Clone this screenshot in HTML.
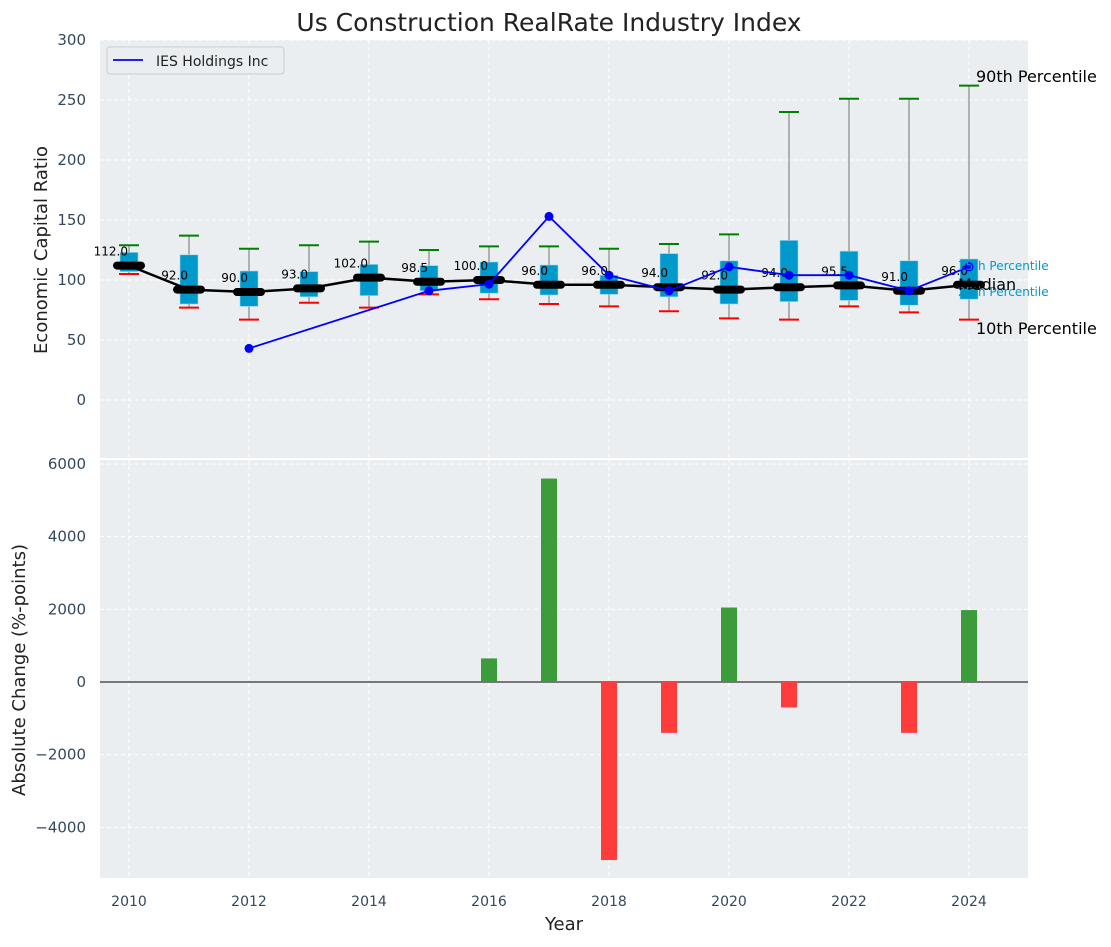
<!DOCTYPE html>
<html><head><meta charset="utf-8"><style>
body{margin:0;background:#fff;}
svg text{font-family:"DejaVu Sans","Liberation Sans",sans-serif;}
</style></head><body>
<svg id="c" width="1111" height="942" xmlns="http://www.w3.org/2000/svg"></svg>
<script>
const years=[2010,2011,2012,2013,2014,2015,2016,2017,2018,2019,2020,2021,2022,2023,2024];
const medians=[112,92,90,93,102,98.5,100,96,96,94,92,94,95.5,91,96];
const q1=[107,80,78,86,87,91,89,87.5,88,86,80,82,83,79,84];
const q3=[123,121,107.5,107,113,112,115,112.5,104,122,116,133,124,116,117.5];
const p10=[105,77,67,81,77,88,84,80,78,74,68,67,78,73,67];
const p90=[129,137,126,129,132,125,128,128,126,130,138,240,251,251,262];
const iesYears=[2012,2015,2016,2017,2018,2019,2020,2021,2022,2023,2024];
const iesVals=[43,91,96.5,153,104,91,111,104,104,91,111];
const changeYears=[2016,2017,2018,2019,2020,2021,2023,2024];
const changeVals=[650,5600,-4900,-1400,2050,-700,-1400,1980];
const topTicks=[0,50,100,150,200,250,300];
const botTicks=[-4000,-2000,0,2000,4000,6000];
const xTicks=[2010,2012,2014,2016,2018,2020,2022,2024];

const NS='http://www.w3.org/2000/svg';
const svg=document.getElementById('c');
function el(t,a,p){const e=document.createElementNS(NS,t);for(const k in a)e.setAttribute(k,a[k]);(p||svg).appendChild(e);return e;}
const L=100,R=1028,T1=40,B1=459,T2=459,B2=878;
const x=v=>129+(v-2010)*60;
const y1=v=>400-1.2*v;
const y2=v=>682-v*0.036333;

let r=el('rect',{x:L,y:T1,width:R-L,height:B1-T1,fill:'#eaeef0'});

r=el('rect',{x:L,y:T2,width:R-L,height:B2-T2,fill:'#eaeef0'});

el('line',{x1:L,x2:R,y1:459,y2:459,stroke:'#fff','stroke-width':2});

xTicks.forEach(t=>{
  el('line',{x1:x(t),x2:x(t),y1:T1,y2:B1,stroke:'#fff','stroke-dasharray':'4,3','stroke-width':1});
  el('line',{x1:x(t),x2:x(t),y1:T2,y2:B2,stroke:'#fff','stroke-dasharray':'4,3','stroke-width':1});
  const tx=el('text',{x:x(t),y:906,'font-size':14,fill:'#34495e','text-anchor':'middle'});tx.textContent=t;
  
});
topTicks.forEach(t=>{
  el('line',{x1:L,x2:R,y1:y1(t),y2:y1(t),stroke:'#fff','stroke-dasharray':'4,3'});
  const tx=el('text',{x:86,y:y1(t)+5,'font-size':15,fill:'#34495e','text-anchor':'end'});tx.textContent=t;
  
});
botTicks.forEach(t=>{
  el('line',{x1:L,x2:R,y1:y2(t),y2:y2(t),stroke:'#fff','stroke-dasharray':'4,3'});
  const tx=el('text',{x:86,y:y2(t)+5,'font-size':15,fill:'#34495e','text-anchor':'end'});tx.textContent=(t<0?'\u2212'+(-t):t);
  
});

years.forEach((yr,i)=>{
  const cx=x(yr);
  let w=el('line',{x1:cx,x2:cx,y1:y1(p90[i]),y2:y1(p10[i]),stroke:'#888','stroke-width':1.2});
  
  let b=el('rect',{x:cx-9,y:y1(q3[i]),width:18,height:y1(q1[i])-y1(q3[i]),fill:'#0099cc',stroke:'#9fd6ea','stroke-width':0.6});
  
  let g=el('line',{x1:cx-10,x2:cx+10,y1:y1(p90[i]),y2:y1(p90[i]),stroke:'green','stroke-width':2});
  
  let rd=el('line',{x1:cx-10,x2:cx+10,y1:y1(p10[i]),y2:y1(p10[i]),stroke:'red','stroke-width':2});
  
});
let mp=el('polyline',{points:years.map((yr,i)=>x(yr)+','+y1(medians[i])).join(' '),fill:'none',stroke:'#000','stroke-width':2.5});

years.forEach((yr,i)=>{
  let m=el('line',{x1:x(yr)-12,x2:x(yr)+12,y1:y1(medians[i]),y2:y1(medians[i]),stroke:'#000','stroke-width':8,'stroke-linecap':'round'});
  
  let t=el('text',{x:x(yr)-1,y:y1(medians[i])-10,'font-size':12,fill:'#000','text-anchor':'end'});t.textContent=medians[i].toFixed(1);
  
});
let ip=el('polyline',{points:iesYears.map((yr,i)=>x(yr)+','+y1(iesVals[i])).join(' '),fill:'none',stroke:'blue','stroke-width':1.8});

iesYears.forEach((yr,i)=>{
  let c=el('circle',{cx:x(yr),cy:y1(iesVals[i]),r:4.5,fill:'blue'});
  
});
[['90th Percentile',976,82,16,'#000'],['75th Percentile',958,270,12,'#0099cc'],['25th Percentile',958,296,12,'#0099cc'],['Median',958,290,16,'#000'],['10th Percentile',976,334,16,'#000']].forEach(a=>{
  let t=el('text',{x:a[1],y:a[2],'font-size':a[3],fill:a[4]});t.textContent=a[0];
  
});
let lg=el('rect',{x:107,y:47,width:177,height:27,rx:3,fill:'#eaeef0',stroke:'#ccc'});

el('line',{x1:113,x2:143,y1:60,y2:60,stroke:'blue','stroke-width':1.8});
let lt=el('text',{x:156,y:66,'font-size':14,fill:'#222'});lt.textContent='IES Holdings Inc';


el('line',{x1:L,x2:R,y1:y2(0),y2:y2(0),stroke:'#000','stroke-width':1});
changeYears.forEach((yr,i)=>{
  const v=changeVals[i];
  let b=el('rect',{x:x(yr)-8,y:Math.min(y2(v),y2(0)),width:16,height:Math.abs(y2(v)-y2(0)),fill:v>=0?'#3c9c3c':'#ff3c3c'});
  
});

let tt=el('text',{x:549,y:31,'font-size':25,fill:'#222','text-anchor':'middle'});tt.textContent='Us Construction RealRate Industry Index';

let xl=el('text',{x:564,y:930,'font-size':18,fill:'#222','text-anchor':'middle'});xl.textContent='Year';

let yl1=el('text',{x:0,y:0,'font-size':18,fill:'#222','text-anchor':'middle',transform:'translate(47,250) rotate(-90)'});yl1.textContent='Economic Capital Ratio';

let yl2=el('text',{x:0,y:0,'font-size':18,fill:'#222','text-anchor':'middle',transform:'translate(25,670) rotate(-90)'});yl2.textContent='Absolute Change (%-points)';

</script>
</body></html>
